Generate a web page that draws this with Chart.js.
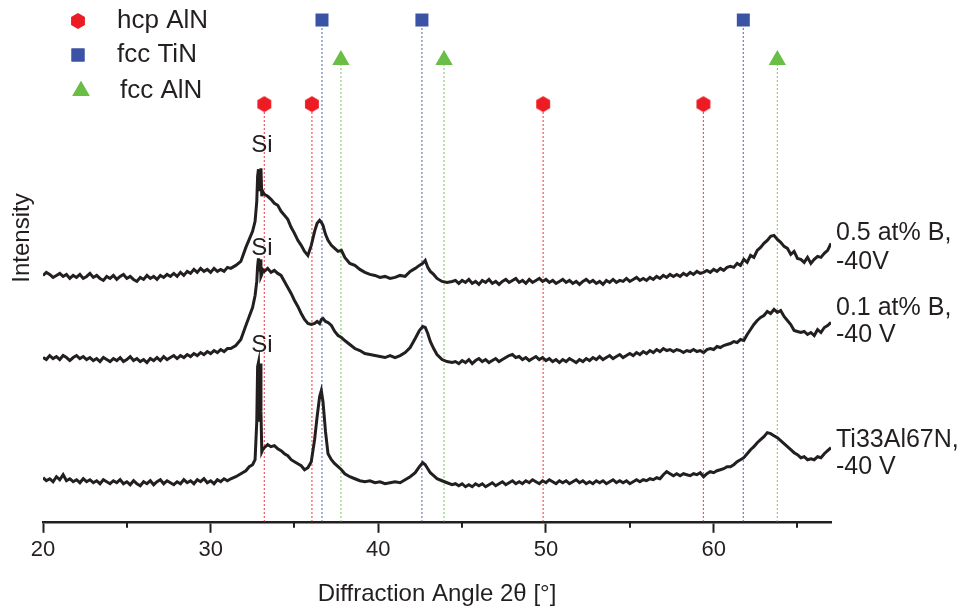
<!DOCTYPE html>
<html>
<head>
<meta charset="utf-8">
<script src="https://cdn.jsdelivr.net/npm/chart.js@4.4.0/dist/chart.umd.min.js"></script>
<style>
  body { margin: 0; background: #fff; }
  #wrap { width: 961px; height: 612px; }
</style>
</head>
<body>
<div id="wrap"><canvas id="xrd" width="961" height="612"></canvas></div>
<script>
// 2theta grid shared by the three patterns
const angles = [
  20, 20.2, 20.4, 20.6, 20.8, 21, 21.2, 21.4, 21.6, 21.8, 22, 22.2, 22.4, 22.6, 22.8, 23, 23.2, 23.4, 23.6, 23.8,
  24, 24.2, 24.4, 24.6, 24.8, 25, 25.2, 25.4, 25.6, 25.8, 26, 26.2, 26.4, 26.6, 26.8, 27, 27.2, 27.4, 27.6, 27.8,
  28, 28.2, 28.4, 28.6, 28.8, 29, 29.2, 29.4, 29.6, 29.8, 30, 30.2, 30.4, 30.6, 30.8, 31,
  31.2, 31.5, 31.8, 32.1, 32.3, 32.5, 32.65, 32.75, 32.8, 32.85, 32.9, 32.95, 33, 33.05, 33.1, 33.2,
  33.4, 33.6, 33.8, 34, 34.2, 34.4, 34.6, 34.8, 35, 35.2, 35.4, 35.6, 35.8, 36, 36.2,
  36.35, 36.5, 36.6, 36.7, 36.85, 37, 37.2, 37.4, 37.6, 37.8, 38,
  38.3, 38.6, 38.9, 39.2, 39.5, 39.8, 40.1, 40.4, 40.7, 41, 41.3, 41.6, 41.9, 42.2,
  42.45, 42.65, 42.8, 42.95, 43.1, 43.3, 43.5, 43.8, 44.1, 44.4,
  44.6, 44.8, 45, 45.2, 45.4, 45.6, 45.8, 46, 46.2, 46.4, 46.6, 46.8, 47, 47.2, 47.4, 47.6, 47.8, 48, 48.2, 48.4,
  48.6, 48.8, 49, 49.2, 49.4, 49.6, 49.8, 50, 50.2, 50.4, 50.6, 50.8, 51, 51.2, 51.4, 51.6, 51.8, 52, 52.2, 52.4,
  52.6, 52.8, 53, 53.2, 53.4, 53.6, 53.8, 54, 54.2, 54.4, 54.6, 54.8, 55, 55.2, 55.4, 55.6, 55.8, 56, 56.2, 56.4,
  56.6, 56.8, 57, 57.2, 57.4, 57.6, 57.8, 58, 58.2, 58.4, 58.6, 58.8, 59, 59.2, 59.4, 59.6, 59.8, 60, 60.2, 60.4,
  60.6, 60.8,
  61, 61.2, 61.4, 61.6, 61.8, 62, 62.2, 62.4, 62.6, 62.8, 63, 63.2, 63.4, 63.6, 63.8, 64, 64.2, 64.4, 64.6, 64.8,
  65, 65.2, 65.4, 65.6, 65.8, 66, 66.2, 66.4, 66.6, 66.8, 67
]

// 0.5 at% B, -40V
const b05 = [
  246, 249, 247, 244, 246, 248, 245, 247, 243, 246, 244, 247, 243, 245, 248, 244, 246, 243, 241, 245,
  243, 246, 242, 245, 247, 243, 245, 242, 240, 244, 242, 246, 243, 245, 242, 246, 244, 247, 245, 248,
  245, 249, 246, 250, 248, 252, 249, 253, 250, 252, 249, 253, 250, 252, 250, 254,
  253, 256, 260, 274, 282, 290, 300, 320, 345, 352, 330, 350, 353, 325, 330, 327,
  325, 322, 318, 316, 310, 306, 302, 294, 288, 281, 276, 270, 266, 276, 290,
  298, 301, 299, 296, 287, 281, 276, 273, 270, 271, 264,
  258, 256, 252, 249, 247, 246, 244, 245, 243, 244, 246, 245, 250, 253,
  256, 258, 261, 254, 250, 247, 243, 240, 239, 240,
  241, 238, 241, 239, 242, 238, 240, 237, 241, 239, 242, 238, 240, 237, 240, 242, 239, 241, 243, 239,
  241, 238, 242, 239, 241, 243, 240, 242, 239, 241, 238, 240, 242, 239, 241, 238, 240, 237, 240, 242,
  239, 241, 238, 240, 237, 241, 239, 242, 239, 241, 240, 243, 240, 242, 244, 241, 243, 241, 244, 242,
  245, 243, 246, 244, 247, 245, 247, 245, 248, 246, 249, 247, 250, 248, 249, 251, 249, 252, 250, 253,
  251, 254,
  255, 254, 258, 256, 262, 259, 266, 264, 271, 274, 278, 281, 285, 286, 282, 279, 275, 273, 267, 270,
  263, 262, 259, 264, 258, 262, 265, 264, 268, 271, 278
]

// 0.1 at% B, -40 V
const b01 = [
  164, 162, 166, 163, 165, 162, 166, 164, 161, 164, 166, 163, 165, 162, 164, 161, 163, 160, 164, 162,
  160, 163, 161, 164, 160, 162, 165, 161, 163, 160, 162, 159, 163, 161, 164, 161, 165, 162, 164, 166,
  163, 166, 164, 167, 165, 168, 166, 169, 167, 170, 168, 171, 169, 172, 170, 173,
  173, 176, 182, 196, 205, 214, 226, 240, 255, 263, 250, 262, 245, 247, 252, 250,
  253, 249, 251, 248, 246, 240, 234, 228, 221, 215, 208, 202, 198, 197, 198,
  200, 198, 202, 203, 200, 199, 196, 190, 186, 184, 181,
  177, 173, 171, 168, 167, 166, 165, 164, 166, 164, 166, 169, 174, 183,
  191, 195, 194, 188, 180, 173, 167, 162, 160, 159,
  160, 158, 161, 159, 162, 158, 161, 163, 160, 162, 159, 161, 163, 160, 162, 164, 166, 167, 164, 165,
  162, 164, 161, 163, 165, 162, 164, 161, 163, 160, 162, 159, 162, 160, 163, 161, 159, 162, 160, 163,
  161, 164, 162, 165, 162, 164, 166, 163, 165, 167, 164, 166, 168, 166, 169, 167, 170, 168, 171, 169,
  172, 170, 173, 171, 172, 170, 172, 171, 169, 171, 170, 172, 170, 171, 169, 172, 173, 172, 175, 174,
  176, 177,
  178, 180, 179, 182, 181, 187, 192, 197, 201, 204, 206, 210, 208, 212, 209, 211, 205, 201, 197, 191,
  190, 189, 190, 187, 189, 186, 192, 189, 194, 196, 199
]

// Ti33Al67N, -40 V
const ti33 = [
  44, 41, 43, 40, 45, 42, 47, 41, 43, 40, 42, 39, 43, 40, 42, 39, 41, 38, 42, 40,
  38, 41, 39, 42, 38, 40, 37, 41, 38, 36, 40, 38, 41, 37, 40, 42, 38, 41, 39, 37,
  40, 38, 42, 39, 41, 38, 42, 40, 43, 39, 41, 38, 42, 40, 43, 41,
  43, 45, 48, 51, 55, 57, 62, 100, 155, 159, 100, 158, 110, 70, 72, 74,
  77, 75, 76, 73, 71, 68, 66, 62, 60, 58, 56, 52, 54, 60, 82,
  105, 125, 131, 120, 90, 68, 62, 58, 55, 52, 48,
  45, 43, 41, 40, 41, 39, 40, 38, 39, 40, 39, 42, 45, 49,
  55, 59, 57, 53, 49, 46, 43, 41, 39, 37,
  38, 36, 38, 35, 37, 35, 38, 36, 38, 35, 37, 39, 36, 38, 40, 37, 39, 41, 38, 40,
  38, 41, 39, 42, 40, 38, 41, 39, 42, 40, 38, 41, 39, 41, 38, 40, 42, 39, 41, 38,
  40, 38, 41, 39, 41, 38, 40, 42, 39, 41, 39, 41, 38, 40, 42, 40, 42, 41, 43, 42,
  44, 43, 47, 50, 48, 46, 48, 46, 48, 47, 46, 48, 47, 49, 45, 48, 50, 49, 51, 52,
  53, 55,
  55, 57, 60, 62, 64, 68, 72, 75, 79, 82, 85, 89, 88, 86, 84, 81, 78, 75, 72, 69,
  67, 64, 65, 62, 63, 62, 65, 64, 68, 71, 74
]

// reference peak positions
const hcpAlN = [33.2, 36.04, 49.83, 59.39]
const fccTiN = [36.64, 42.6, 61.77]
const fccAlN = [37.77, 43.92, 63.8]

const majorTicks = [20, 30, 40, 50, 60]
const minorTicks = [25, 35, 45, 55, 65]

const sampleNames = [
  ['0.5 at% B,', '-40V'],
  ['0.1 at% B,', '-40 V'],
  ['Ti33Al67N,', '-40 V']
]
const siLevels = [376, 273, 176]

if (b05.length !== angles.length || b01.length !== angles.length || ti33.length !== angles.length) {
  throw new Error('lengths: ' + angles.length + ' ' + b05.length + ' ' + b01.length + ' ' + ti33.length)
}

const RED = '#ed1c24'
const BLUE = '#3a53a4'
const GREEN = '#6abd45'
const INK = '#231f20'
const FONT = '"Liberation Sans", Arial, sans-serif'

const toPoints = (vals) => vals.map((v, i) => ({ x: angles[i], y: v }))

const hexagon = (() => {
  const c = document.createElement('canvas')
  c.width = 18
  c.height = 18
  const g = c.getContext('2d')
  g.fillStyle = RED
  g.beginPath()
  for (let k = 0; k < 6; k++) {
    const a = -Math.PI / 2 + k * Math.PI / 3
    const px = 9 + 8 * Math.cos(a)
    const py = 9 + 8 * Math.sin(a)
    if (k === 0) g.moveTo(px, py)
    else g.lineTo(px, py)
  }
  g.closePath()
  g.fill()
  return c
})()

const phases = [
  { pos: hcpAlN, color: RED, level: 417, style: hexagon, radius: 9 },
  { pos: fccTiN, color: BLUE, level: 501, style: 'rect', radius: 9.2 },
  { pos: fccAlN, color: GREEN, level: 461, style: 'triangle', radius: 10 }
]

const traceSet = (vals) => ({
  data: toPoints(vals),
  borderColor: INK,
  borderWidth: 3,
  pointRadius: 0,
  tension: 0
})

const datasets = [traceSet(b05), traceSet(b01), traceSet(ti33)]

phases.forEach(ph => {
  datasets.push({
    data: ph.pos.map(p => ({ x: p, y: ph.level })),
    showLine: false,
    pointStyle: ph.style,
    pointRadius: ph.radius,
    pointBackgroundColor: ph.color,
    pointBorderWidth: 0,
    clip: false
  })
})
phases.forEach(ph => {
  ph.pos.forEach(p => {
    datasets.push({
      data: [{ x: p, y: 0 }, { x: p, y: ph.level }],
      borderColor: ph.color,
      borderWidth: 1.2,
      borderDash: [1.5, 2.5],
      pointRadius: 0
    })
  })
})

const annotations = {
  id: 'annotations',
  afterDraw(chart) {
    const { ctx, scales: { x, y }, chartArea } = chart
    ctx.save()
    // minor ticks
    ctx.strokeStyle = INK
    ctx.lineWidth = 2
    minorTicks.forEach(t => {
      const px = Math.round(x.getPixelForValue(t))
      ctx.beginPath()
      ctx.moveTo(px, chartArea.bottom)
      ctx.lineTo(px, chartArea.bottom + 6)
      ctx.stroke()
    })

    ctx.fillStyle = INK
    ctx.textBaseline = 'middle'

    ctx.font = '24px ' + FONT
    ctx.textAlign = 'center'
    siLevels.forEach(v => ctx.fillText('Si', x.getPixelForValue(33.05), y.getPixelForValue(v)))

    ctx.font = '25px ' + FONT
    ctx.textAlign = 'left'
    const rows = [[233, 262], [308, 335], [440, 467]]
    sampleNames.forEach((n, i) => {
      ctx.fillText(n[0], 836, rows[i][0])
      ctx.fillText(n[1], 836, rows[i][1])
    })

    // legend
    ctx.font = '26px ' + FONT
    const legend = [['hcp AlN', 0, 21, 117], ['fcc TiN', 1, 55, 117], ['fcc AlN', 2, 91, 120]]
    legend.forEach(([label, k, ly, tx]) => {
      const ph = phases[k]
      const mx = k === 2 ? 81 : 78
      ctx.fillStyle = ph.color
      if (typeof ph.style === 'string') {
        ctx.beginPath()
        Chart.helpers.drawPoint(ctx, { pointStyle: ph.style, radius: ph.radius, borderWidth: 0 }, mx, ly)
        ctx.fill()
      } else {
        Chart.helpers.drawPoint(ctx, { pointStyle: ph.style, radius: ph.radius, borderWidth: 0 }, mx, ly)
      }
      ctx.fillStyle = INK
      ctx.fillText(label, tx, ly)
    })

    // y title
    ctx.font = '24px ' + FONT
    ctx.translate(22, 238)
    ctx.rotate(-Math.PI / 2)
    ctx.textAlign = 'center'
    ctx.fillText('Intensity', 0, 0)
    ctx.restore()
  }
}

const config = {
  type: 'line',
  data: { datasets },
  options: {
    responsive: false,
    animation: false,
    devicePixelRatio: 1,
    layout: { padding: { left: 43, right: 130, top: 10, bottom: 3 } },
    plugins: { legend: { display: false }, tooltip: { enabled: false } },
    scales: {
      x: {
        type: 'linear',
        min: 20,
        max: 67,
        afterBuildTicks: (axis) => { axis.ticks = majorTicks.map(v => ({ value: v })) },
        ticks: { color: INK, font: { family: FONT, size: 22 }, padding: 4, maxRotation: 0 },
        grid: { drawOnChartArea: false, tickLength: 11, tickWidth: 2, tickColor: INK },
        border: { display: true, color: INK, width: 2.5 },
        title: {
          display: true,
          text: 'Diffraction Angle 2θ [°]',
          color: INK,
          font: { family: FONT, size: 24 },
          padding: { top: 13, bottom: 0 }
        }
      },
      y: { display: false, min: 0, max: 511 }
    }
  },
  plugins: [annotations]
}

const grafico = new Chart(document.getElementById('xrd'), config)
</script>
</body>
</html>
